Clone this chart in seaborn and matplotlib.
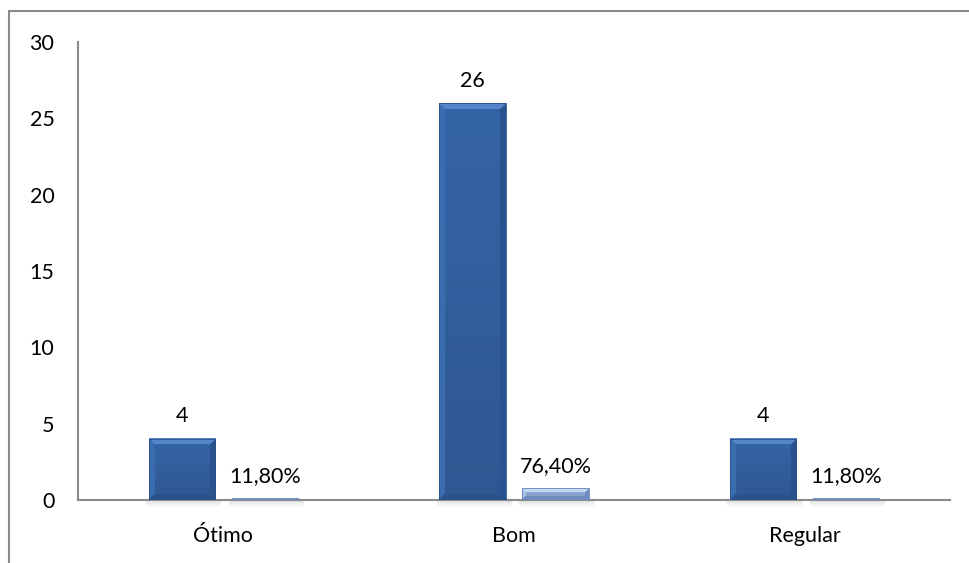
import numpy as np
import pandas as pd
import matplotlib
matplotlib.use("Agg")
import matplotlib.pyplot as plt
from matplotlib.lines import Line2D
from matplotlib.colors import to_rgb
import seaborn as sns

# Survey results: counts and share per rating
categories = ["Ótimo", "Bom", "Regular"]
counts = [4, 26, 4]
shares = [0.118, 0.764, 0.118]
series_names = ["Quantidade", "Percentual"]
y_ticks = [0, 5, 10, 15, 20, 25, 30]

df = pd.DataFrame({
    "categoria": categories * 2,
    "valor": counts + shares,
    "serie": [series_names[0]] * 3 + [series_names[1]] * 3,
})

sns.set_theme(style="white")
plt.rcParams["font.family"] = ["Lato", "DejaVu Sans"]

W, H, DPI = 969, 563, 100
fig = plt.figure(figsize=(W / DPI, H / DPI), dpi=DPI)
ax = fig.add_axes([78 / W, 1 - 500 / H, (950 - 78) / W, (500 - 42) / H])

dark_base = "#31609f"
light_base = "#8eaad6"
sns.barplot(data=df, x="categoria", y="valor", hue="serie", order=categories,
            palette=[dark_base, light_base], width=0.57, gap=0.2,
            saturation=1, legend=False, ax=ax, errorbar=None)

FS = 15.5
ax.set_xlim(-0.5, 2.5)
ax.set_ylim(0, 30)
ax.set_yticks(y_ticks)
ax.set_xlabel("")
ax.set_ylabel("")
ax.tick_params(axis="y", length=0, pad=17, labelsize=FS, colors="black")
ax.tick_params(axis="x", length=0, pad=19, labelsize=FS, colors="black")
for side in ("top", "right"):
    ax.spines[side].set_visible(False)
for side in ("left", "bottom"):
    ax.spines[side].set_color("#8a8a8a")
    ax.spines[side].set_linewidth(1.5)
ax.grid(False)

# pixel scale of the data axes
px_x = (950 - 78) / 3.0
px_y = (500 - 42) / 30.0


def bevel(patch, base, light, mid, dark, edge):
    x0, y0 = patch.get_x(), patch.get_y()
    w, h = patch.get_width(), patch.get_height()
    wp = max(int(round(w * px_x)), 2)
    hp = max(int(round(h * px_y)), 2)
    b = max(1.0, min(6.0, hp / 3.0))
    r = np.arange(hp)[:, None] + 0.5
    c = np.arange(wp)[None, :] + 0.5
    dt, db = r * np.ones_like(c), (hp - r) * np.ones_like(c)
    dl, dr = c * np.ones_like(r), (wp - c) * np.ones_like(r)
    img = np.zeros((hp, wp, 3))
    t = (r / hp) * np.ones_like(c)
    img[:] = np.array(to_rgb(base))[None, None, :] * (1 - 0.12 * t[..., None])
    dmin = np.minimum(np.minimum(dt, db), np.minimum(dl, dr))
    top = (dmin < b) & (dt == dmin)
    bot = (dmin < b) & (db == dmin) & ~top
    left = (dmin < b) & (dl == dmin) & ~top & ~bot
    right = (dmin < b) & (dr == dmin) & ~top & ~bot & ~left
    img[top] = to_rgb(light)
    img[left] = to_rgb(mid)
    img[right] = to_rgb(dark)
    img[bot] = to_rgb(dark)
    ax.imshow(img, extent=(x0, x0 + w, y0, y0 + h), origin="upper",
              aspect="auto", interpolation="bilinear", zorder=3)
    patch.set_edgecolor(edge)
    patch.set_linewidth(0.6)
    patch.set_zorder(3.5)
    patch.set_facecolor("none")
    # soft shadow under the base line
    sh = np.zeros((8, 1, 4))
    sh[..., :3] = 0.5
    sh[:, 0, 3] = np.linspace(0.22, 0.0, 8)
    ax.imshow(sh, extent=(x0 - 0.01, x0 + w + 0.02, -8 / px_y, 0), origin="upper",
              aspect="auto", interpolation="bilinear", zorder=1, clip_on=False)


for p in ax.containers[0]:
    bevel(p, "#3564a6", "#5485c9", "#3b6cb0", "#2a538e", "#2a4f85")
for p in ax.containers[1]:
    bevel(p, "#92aedb", "#c4d6f0", "#a6bfe6", "#6d8cc0", "#6683b5")

ax.set_xlim(-0.5, 2.5)
ax.set_ylim(0, 30)

ax.bar_label(ax.containers[0], labels=[str(v) for v in counts],
             padding=9, fontsize=FS, color="black")
ax.bar_label(ax.containers[1],
             labels=[f"{v * 100:.2f}%".replace(".", ",") for v in shares],
             padding=9, fontsize=FS, color="black")

# chart area frame
fx, fy = 9 / W, 1 - 11 / H
fig.add_artist(Line2D([fx, fx], [0, fy], color="#8a8a8a", lw=1.5, transform=fig.transFigure))
fig.add_artist(Line2D([fx, 1], [fy, fy], color="#8a8a8a", lw=1.5, transform=fig.transFigure))

fig.savefig("out.png", dpi=DPI, facecolor="white")
